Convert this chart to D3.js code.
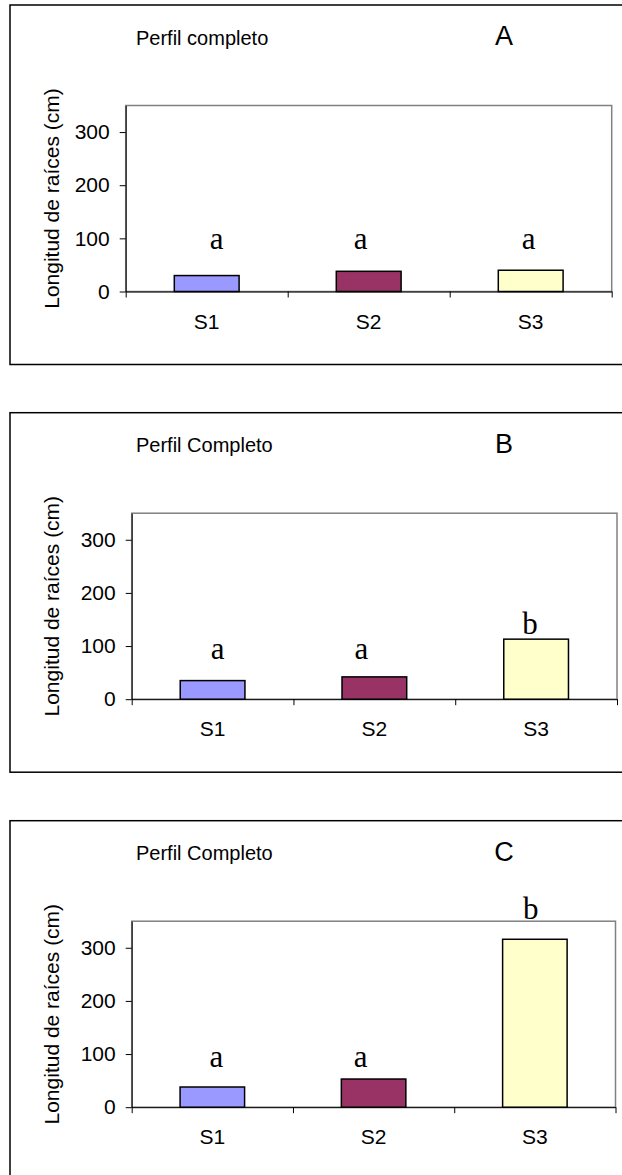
<!DOCTYPE html>
<html>
<head>
<meta charset="utf-8">
<script src="https://cdn.jsdelivr.net/npm/d3@7"></script>
<style>
  body { margin: 0; background: #fff; }
  svg { display: block; }
</style>
</head>
<body>
<div id="chart"></div>
<script>
// data
const categories = ['S1', 'S2', 'S3'];
const panelIds = ['A', 'B', 'C'];
const panelTitles = ['Perfil completo', 'Perfil Completo', 'Perfil Completo'];
const valuesA = [30, 38, 40];
const valuesB = [35, 42, 113];
const valuesC = [38, 53, 316];
const lettersA = ['a', 'a', 'a'];
const lettersB = ['a', 'a', 'b'];
const lettersC = ['a', 'a', 'b'];
const yTicks = [0, 100, 200, 300];
const yMax = 350;
const yTitle = 'Longitud de raíces (cm)';

const barColors = ['#9999ff', '#993366', '#ffffcc'];

// annotation layout (hand placed in the original)
const letterBase = [[80, 80, 80], [76, 76, 122], [76, 76, 354]];
const letterNudge = [[10, -8, -2], [5, -13, -6], [4, -13, -4]];

// panel frames
const panels = [
    { top: 5, left: 125.7, right: 611.7, values: valuesA, letters: lettersA },
    { top: 412.7, left: 131.7, right: 617, values: valuesB, letters: lettersB },
    { top: 820.7, left: 131.7, right: 615.5, values: valuesC, letters: lettersC }
];

const svgWidth = 622;
const svgHeight = 1175;

const svg = d3.select('#chart')
    .append('svg')
    .attr('width', svgWidth)
    .attr('height', svgHeight);

panels.forEach((p, k) => {
    const g = svg.append('g');

    // outer frame, right side runs off the page
    g.append('rect')
        .attr('x', 10)
        .attr('y', p.top)
        .attr('width', 640)
        .attr('height', 359.5)
        .attr('fill', 'none')
        .attr('stroke', '#000')
        .attr('stroke-width', 1.5);

    g.append('text')
        .attr('x', 136)
        .attr('y', p.top + 39.5)
        .style('font-family', 'Liberation Sans, Arial, sans-serif')
        .style('font-size', '20px')
        .text(panelTitles[k]);

    g.append('text')
        .attr('x', 504)
        .attr('y', p.top + 40)
        .attr('text-anchor', 'middle')
        .style('font-family', 'Liberation Sans, Arial, sans-serif')
        .style('font-size', '27px')
        .text(panelIds[k]);

    const plotTop = p.top + 100.5;
    const zeroY = p.top + 286.5;

    const xScale = d3.scaleBand()
        .domain(categories)
        .range([p.left, p.right]);

    const xEdges = d3.scaleLinear()
        .domain([0, categories.length])
        .range([p.left, p.right]);

    const yScale = d3.scaleLinear()
        .domain([0, yMax])
        .range([zeroY, plotTop]);

    // plot area border
    g.append('rect')
        .attr('x', p.left)
        .attr('y', plotTop)
        .attr('width', p.right - p.left)
        .attr('height', zeroY - plotTop)
        .attr('fill', 'none')
        .attr('stroke', '#808080')
        .attr('stroke-width', 1.5);

    const bw = xScale.bandwidth();
    g.selectAll('.bar')
        .data(p.values)
        .enter().append('rect')
        .attr('class', 'bar')
        .attr('x', (d, i) => xScale(categories[i]) + bw * 0.3)
        .attr('y', d => yScale(d))
        .attr('width', bw * 0.4)
        .attr('height', d => zeroY - yScale(d))
        .attr('fill', (d, i) => barColors[i])
        .attr('stroke', '#000')
        .attr('stroke-width', 1.5);

    // y axis
    const yAxis = g.append('g')
        .attr('transform', 'translate(' + p.left + ',0)')
        .call(d3.axisLeft(yScale).tickValues(yTicks).tickSize(6).tickPadding(10).tickSizeOuter(0));
    yAxis.select('.domain').attr('stroke', '#000');
    yAxis.selectAll('text')
        .style('font-family', 'Liberation Sans, Arial, sans-serif')
        .style('font-size', '21px')
        .attr('fill', '#000');

    // x axis: ticks on the category edges
    const xAxis = g.append('g')
        .attr('transform', 'translate(0,' + zeroY + ')')
        .call(d3.axisBottom(xEdges).tickValues(d3.range(0, categories.length + 1)).tickSize(6).tickFormat('').tickSizeOuter(0));
    xAxis.select('.domain').attr('stroke', '#000');

    g.selectAll('.cat')
        .data(categories)
        .enter().append('text')
        .attr('class', 'cat')
        .attr('x', d => xScale(d) + bw / 2)
        .attr('y', zeroY + 37)
        .attr('text-anchor', 'middle')
        .style('font-family', 'Liberation Sans, Arial, sans-serif')
        .style('font-size', '21px')
        .text(d => d);

    g.append('text')
        .attr('transform', 'translate(59,' + ((plotTop + zeroY) / 2) + ') rotate(-90)')
        .attr('text-anchor', 'middle')
        .style('font-family', 'Liberation Sans, Arial, sans-serif')
        .style('font-size', '21px')
        .text(yTitle);

    // significance letters
    g.selectAll('.letter')
        .data(p.letters)
        .enter().append('text')
        .attr('class', 'letter')
        .attr('x', (d, i) => xScale(categories[i]) + bw / 2 + letterNudge[k][i])
        .attr('y', (d, i) => yScale(letterBase[k][i]))
        .attr('text-anchor', 'middle')
        .style('font-family', 'Liberation Serif, Times New Roman, serif')
        .style('font-size', '31px')
        .text(d => d);
});
</script>
</body>
</html>
